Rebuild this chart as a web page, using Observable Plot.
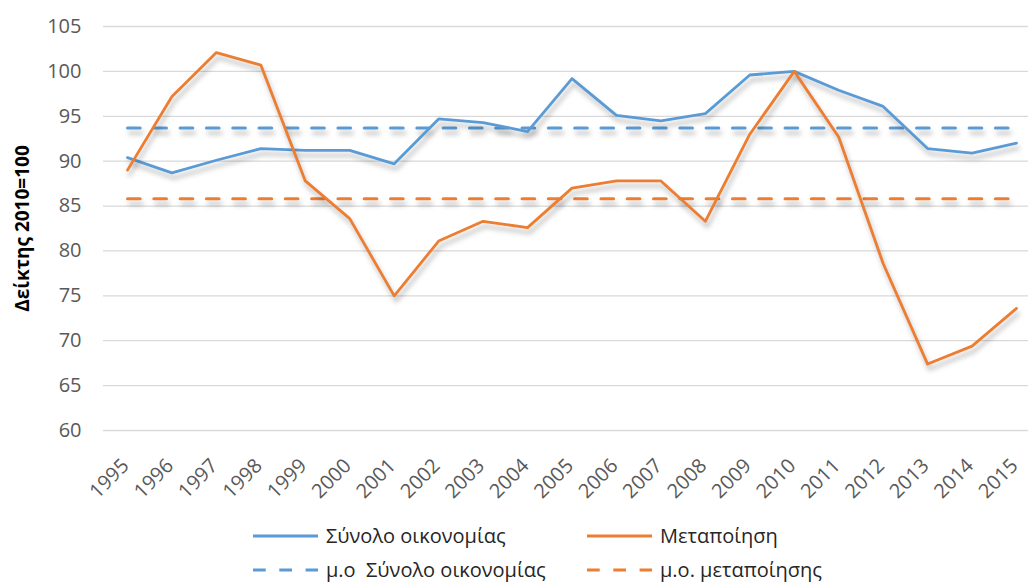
<!DOCTYPE html>
<html>
<head>
<meta charset="utf-8">
<script src="https://cdn.jsdelivr.net/npm/d3@7"></script>
<script src="https://cdn.jsdelivr.net/npm/@observablehq/plot@0.6"></script>
<style>
  body { margin: 0; background: #fff; font-family: "Open Sans", sans-serif; }
  #chart { position: relative; width: 1028px; height: 584px; overflow: hidden; background: #fff; }
  #chart svg { display: block; }
  .leg { position: absolute; display: flex; align-items: center; font-size: 20px; line-height: 24px; color: #262626; white-space: pre; }
  .leg svg { margin-right: 8px; }
</style>
</head>
<body>
<div id="chart"></div>
<script>
const years = [1995, 1996, 1997, 1998, 1999, 2000, 2001, 2002, 2003, 2004, 2005, 2006, 2007, 2008, 2009, 2010, 2011, 2012, 2013, 2014, 2015];
const totalEconomy = [90.4, 88.7, 90.1, 91.4, 91.2, 91.2, 89.7, 94.7, 94.3, 93.3, 99.2, 95.1, 94.5, 95.3, 99.6, 100.0, 97.9, 96.1, 91.4, 90.9, 92.0];
const manufacturing = [89.0, 97.2, 102.1, 100.7, 87.8, 83.6, 75.0, 81.1, 83.3, 82.6, 87.0, 87.8, 87.8, 83.3, 93.0, 100.0, 92.7, 78.6, 67.4, 69.4, 73.6];
const avgTotalEconomy = 93.7;
const avgManufacturing = 85.8;
const yTicks = [60, 65, 70, 75, 80, 85, 90, 95, 100, 105];
const seriesNames = ["Σύνολο οικονομίας", "Μεταποίηση", "μ.ο  Σύνολο οικονομίας", "μ.ο. μεταποίησης"];
const yTitle = "Δείκτης 2010=100";
const blue = "#5B9BD5", orange = "#ED7D31";

const totalRows = years.map((year, i) => ({year, value: totalEconomy[i]}));
const manuRows = years.map((year, i) => ({year, value: manufacturing[i]}));
const avgTotalRows = years.map(year => ({year, value: avgTotalEconomy}));
const avgManuRows = years.map(year => ({year, value: avgManufacturing}));

const dash = "12.7,13.6";

const svg = Plot.plot({
  width: 1028,
  height: 510,
  marginLeft: 103,
  marginRight: 0,
  marginTop: 26,
  marginBottom: 80,
  x: {type: "linear", domain: [1994.46, 2015.27]},
  y: {domain: [60, 105]},
  style: {fontFamily: "Open Sans, sans-serif", fontSize: "19px", color: "#595959", background: "white", overflow: "visible"},
  marks: [
    Plot.ruleY(yTicks, {stroke: "#d9d9d9", strokeWidth: 1.3}),
    Plot.axisY({ticks: yTicks, tickSize: 0, tickPadding: 22, fontSize: 20, label: null}),
    Plot.axisX({ticks: years, tickFormat: d => String(d), tickRotate: -45, tickSize: 0, tickPadding: 32, dx: -2, fontSize: 20, label: null}),
    Plot.text([yTitle], {frameAnchor: "left", dx: -81, rotate: -90, textAnchor: "middle", text: d => d, fontWeight: "bold", fontSize: 19, fill: "#000"}),
    Plot.line(avgTotalRows, {x: "year", y: "value", stroke: blue, strokeWidth: 3, strokeDasharray: dash}),
    Plot.line(avgManuRows, {x: "year", y: "value", stroke: orange, strokeWidth: 3, strokeDasharray: dash}),
    Plot.line(totalRows, {x: "year", y: "value", stroke: blue, strokeWidth: 2.8}),
    Plot.line(manuRows, {x: "year", y: "value", stroke: orange, strokeWidth: 2.8})
  ]
});

d3.select(svg).selectAll('g[aria-label="line"]').style("filter", "drop-shadow(2px 5px 2.5px rgba(0,0,0,0.28))");

const chart = document.getElementById("chart");
chart.appendChild(svg);

const legendItems = [
  {name: seriesNames[0], color: blue, dashed: false, left: 253, top: 536},
  {name: seriesNames[1], color: orange, dashed: false, left: 587, top: 536},
  {name: seriesNames[2], color: blue, dashed: true, left: 253, top: 570},
  {name: seriesNames[3], color: orange, dashed: true, left: 587, top: 570}
];
for (const it of legendItems) {
  const div = document.createElement("div");
  div.className = "leg";
  div.style.left = it.left + "px";
  div.style.top = (it.top - 13) + "px";
  div.style.height = "26px";
  div.innerHTML = `<svg width="65" height="6"><line x1="0" x2="65" y1="3" y2="3" stroke="${it.color}" stroke-width="3" ${it.dashed ? 'stroke-dasharray="12.7,13.6"' : ''}/></svg><span>${it.name}</span>`;
  chart.appendChild(div);
}
</script>
</body>
</html>
